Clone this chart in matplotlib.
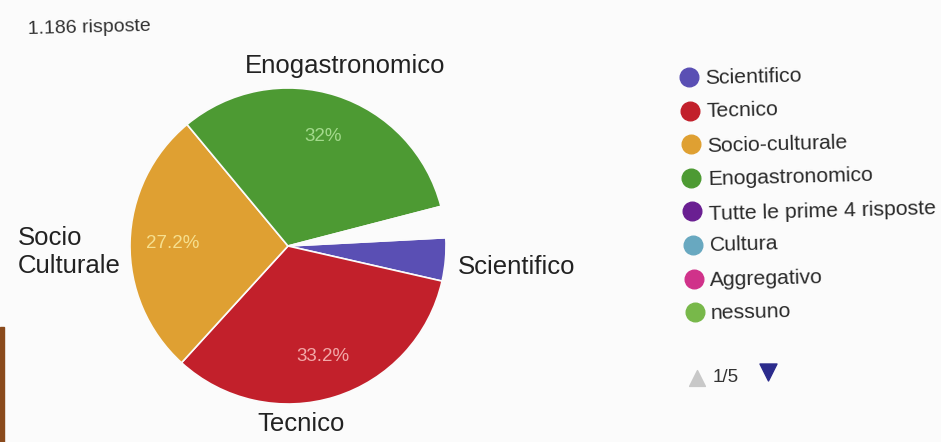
import matplotlib.pyplot as plt
from matplotlib.patches import Rectangle

plt.rcParams['font.family'] = ['Liberation Sans', 'DejaVu Sans']

# risposte (percentuali), in senso orario a partire da Scientifico
categorie = ['Scientifico', 'Tecnico', 'Socio-culturale', 'Enogastronomico', 'altre']
valori = [4.4, 33.2, 27.2, 32.0, 3.2]
colori_fette = ['#5a4fb4', '#c2202b', '#dfa032', '#4d9a33', '#fbfbfb']

etichette_torta = ['Scientifico', 'Tecnico', 'Socio\nCulturale', 'Enogastronomico']

legenda = ['Scientifico', 'Tecnico', 'Socio-culturale', 'Enogastronomico',
           'Tutte le prime 4 risposte', 'Cultura', 'Aggregativo', 'nessuno']
colori_legenda = ['#5a4fb4', '#c2202b', '#dfa032', '#4d9a33',
                  '#6a1f92', '#68a8c0', '#d0328a', '#78b84a']

totale = '1.186 risposte'
pagina = '1/5'

W, H = 941, 442
fig = plt.figure(figsize=(W / 100, H / 100), dpi=100)
fig.patch.set_facecolor('#fbfbfb')
ax = fig.add_axes([0, 0, 1, 1])
ax.set_facecolor('#fbfbfb')


def py(y):
    # coordinate in pixel dall'alto
    return H - y


def pct(p):
    return f'{p:.1f}'.rstrip('0').rstrip('.') + '%' if p >= 10 else ''


wedges, _, testi = ax.pie(valori, colors=colori_fette, startangle=3, counterclock=False,
                          center=(288, py(246)), radius=158,
                          wedgeprops=dict(edgecolor='#fbfbfb', linewidth=1.2),
                          autopct=pct, pctdistance=0.73,
                          textprops=dict(fontsize=13.5))
colori_pct = ['#f2a8a8', '#f2a8a8', '#f6df8e', '#a3da8c', '#fbfbfb']
for t, c in zip(testi, colori_pct):
    t.set_color(c)

# etichette esterne
ax.text(345, py(66), etichette_torta[3], fontsize=18.5, color='#222222', ha='center', va='center')
ax.text(18, py(252), etichette_torta[2], fontsize=18.5, color='#222222', ha='left', va='center',
        linespacing=1.25)
ax.text(301, py(424), etichette_torta[1], fontsize=18.5, color='#222222', ha='center', va='center')
ax.text(458, py(267), etichette_torta[0], fontsize=18.5, color='#222222', ha='left', va='center')

ax.text(28, py(28), totale, fontsize=14, color='#333333', ha='left', va='center', rotation=1.5)

# legenda
for i, (nome, col) in enumerate(zip(legenda, colori_legenda)):
    y = 77 + i * 33.6
    x = 689 + i * 0.8
    ax.scatter([x], [py(y)], s=180, color=col, zorder=3)
    ax.text(x + 16, py(y), nome, fontsize=15.3, color='#2a2a2a', ha='left', va='center',
            rotation=1.5)

ax.scatter([697], [py(378)], marker='^', s=130, color='#c8c8c8')
ax.text(713, py(377), pagina, fontsize=13.5, color='#333333', ha='left', va='center')
ax.scatter([768], [py(372)], marker='v', s=150, color='#2b2b8c')

ax.add_patch(Rectangle((0, 0), 4, 115, color='#8a4a1c'))

ax.set_xlim(0, W)
ax.set_ylim(0, H)
ax.set_aspect('equal')
ax.axis('off')

fig.savefig('out.png', dpi=100, facecolor=fig.get_facecolor())
